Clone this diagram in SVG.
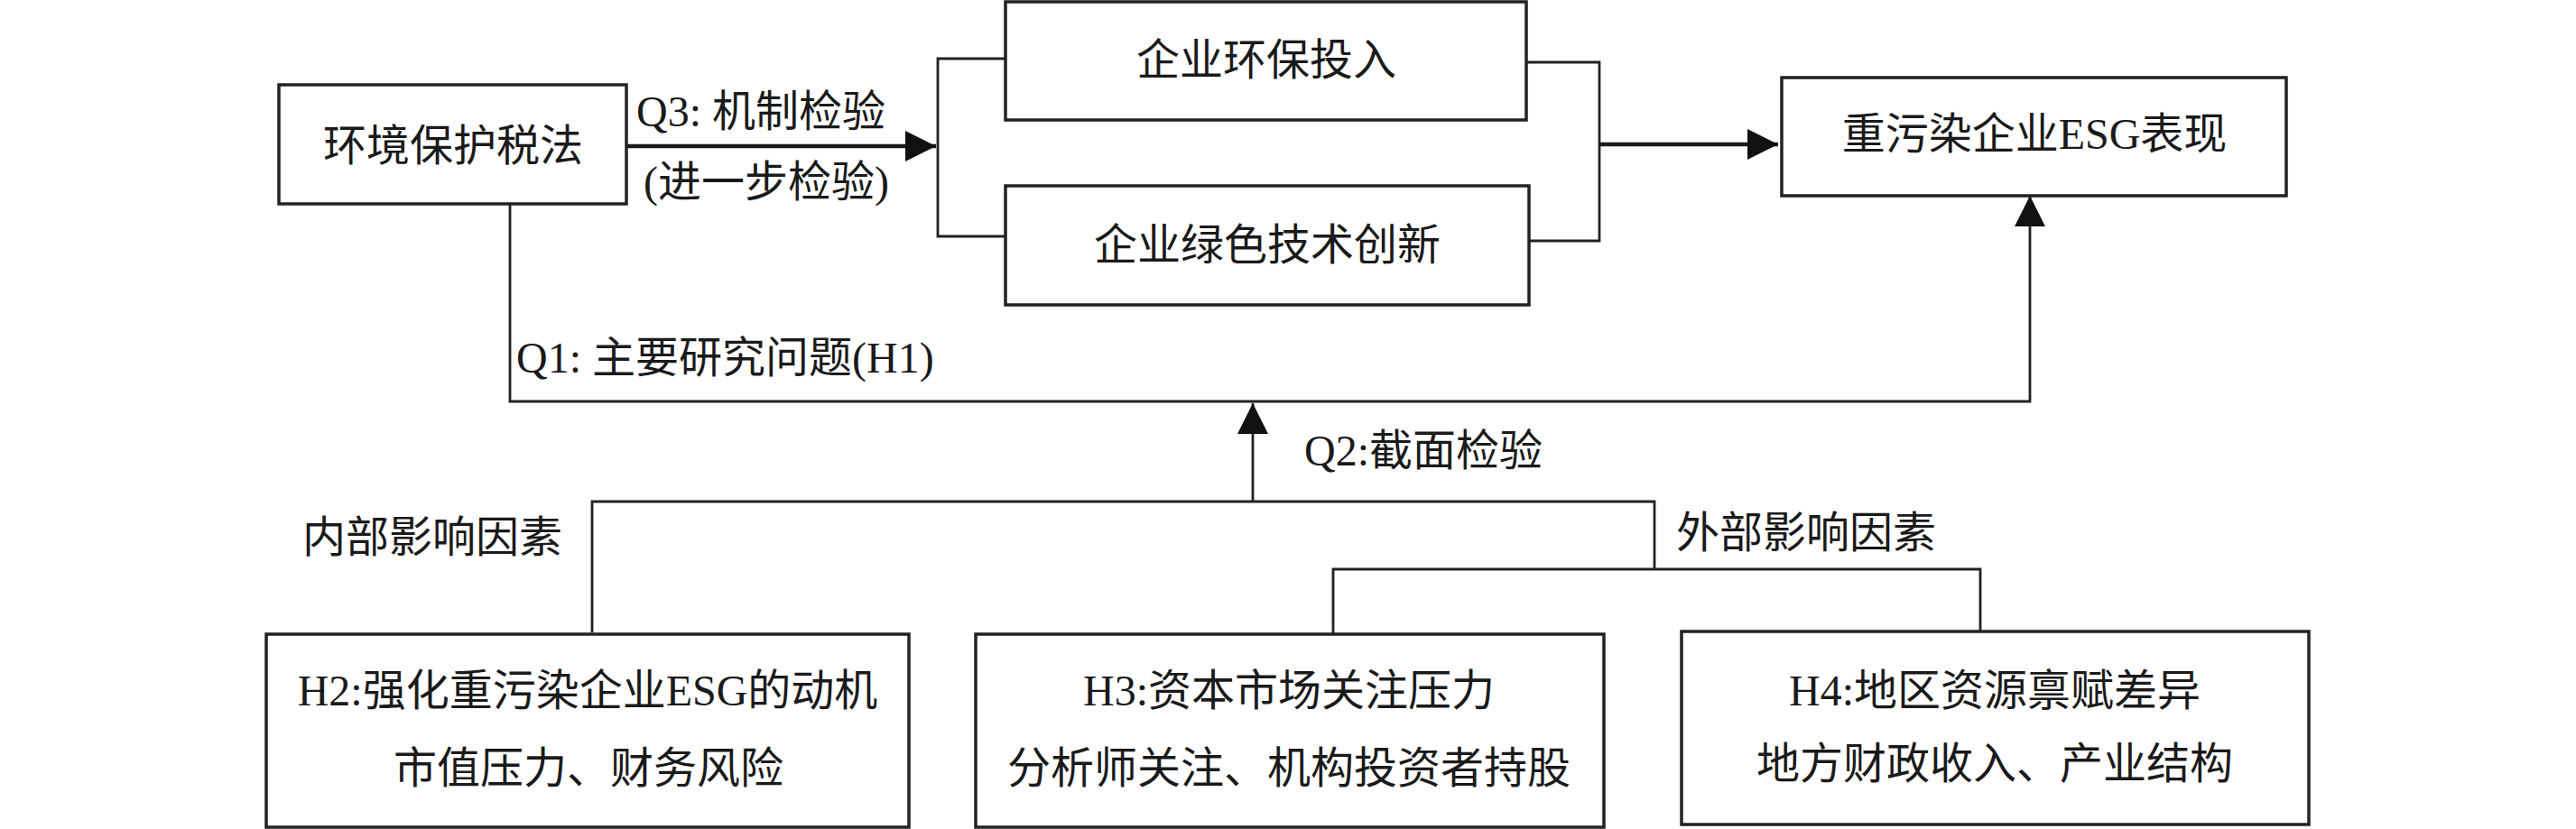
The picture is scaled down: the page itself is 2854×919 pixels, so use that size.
<svg xmlns="http://www.w3.org/2000/svg" width="2854" height="919" viewBox="0 0 2854 919">
<style>
.box{fill:#fff;stroke:#222;stroke-width:3.5}
.ln{fill:none;stroke:#222;stroke-width:2.8}
.thick{fill:none;stroke:#1a1a1a;stroke-width:4.5}
text{font-family:"Liberation Serif","Noto Sans CJK SC",serif;font-size:48px;fill:#1a1a1a}
.c{text-anchor:middle}
</style>
<defs>
<marker id="ah" markerUnits="userSpaceOnUse" markerWidth="34" markerHeight="34" viewBox="0 0 32 32" refX="32" refY="16" orient="auto">
<path d="M0,0 L32,16 L0,32 z" fill="#111"/>
</marker>
</defs>
<rect width="2854" height="919" fill="#fff"/>
<g id="connectors">
<line class="thick" x1="694" y1="162" x2="1037" y2="162" marker-end="url(#ah)"/>
<path class="ln" d="M1114,65 H1039 V262 H1114"/>
<path class="ln" d="M1691,69 H1772 V267 H1694"/>
<line class="thick" x1="1772" y1="160" x2="1970" y2="160" marker-end="url(#ah)"/>
<path class="ln" d="M565,226 V445 H2249 V217" marker-end="url(#ah)"/>
<path class="ln" d="M1388,556 V447" marker-end="url(#ah)"/>
<path class="ln" d="M656,701 V556 H1833 V631"/>
<path class="ln" d="M1477,703 V631 H2194 V700"/>
</g>
<g id="n_tax">
<rect class="box" x="309" y="94" width="385" height="132"/>
<text class="c" x="502" y="178">环境保护税法</text>
</g>
<g id="n_invest">
<rect class="box" x="1114" y="2" width="577" height="131"/>
<text class="c" x="1403" y="83">企业环保投入</text>
</g>
<g id="n_innov">
<rect class="box" x="1114" y="206" width="580" height="132"/>
<text class="c" x="1404" y="288">企业绿色技术创新</text>
</g>
<g id="n_esg">
<rect class="box" x="1974" y="86" width="559" height="131"/>
<text class="c" x="2254" y="165">重污染企业ESG表现</text>
</g>
<g id="labels">
<text x="705" y="140">Q3: 机制检验</text>
<text x="713" y="218">(进一步检验)</text>
<text x="572" y="413">Q1: 主要研究问题(H1)</text>
<text x="1445" y="516">Q2:截面检验</text>
<text class="c" x="479" y="612">内部影响因素</text>
<text x="1857" y="607">外部影响因素</text>
</g>
<g id="n_h2">
<rect class="box" x="295" y="703" width="712" height="214"/>
<text class="c" x="651" y="782">H2:强化重污染企业ESG的动机</text>
<text class="c" x="652" y="868">市值压力、财务风险</text>
</g>
<g id="n_h3">
<rect class="box" x="1081" y="703" width="696" height="214"/>
<text class="c" x="1428" y="782">H3:资本市场关注压力</text>
<text class="c" x="1428" y="868">分析师关注、机构投资者持股</text>
</g>
<g id="n_h4">
<rect class="box" x="1863" y="700" width="695" height="214"/>
<text class="c" x="2210" y="782">H4:地区资源禀赋差异</text>
<text class="c" x="2210" y="863">地方财政收入、产业结构</text>
</g>
</svg>
